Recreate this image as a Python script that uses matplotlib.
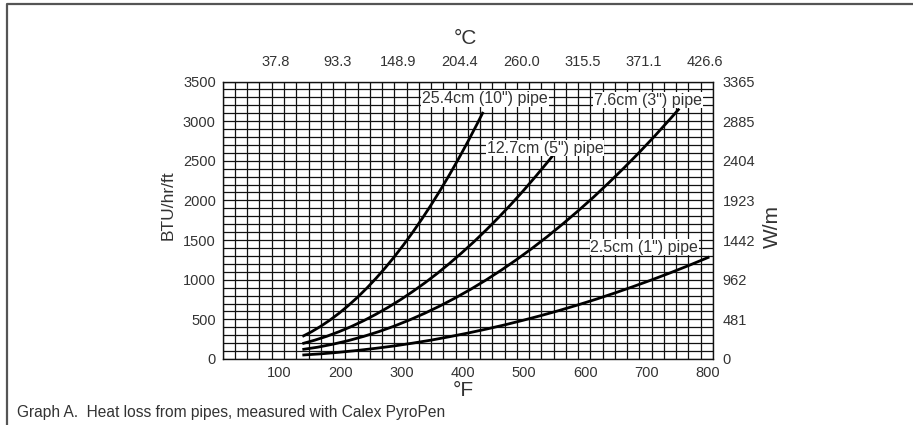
import numpy as np
import matplotlib
matplotlib.use("Agg")
import matplotlib.pyplot as plt
import matplotlib.transforms as mtransforms
from matplotlib.lines import Line2D

plt.rcParams['font.family'] = ['Liberation Sans', 'DejaVu Sans']

# ---- data (deg F vs BTU/hr/ft) ----
f_10in = [130, 145, 160, 175, 190, 205, 220, 235, 250, 265, 280,
          295, 310, 325, 340, 355, 370, 385, 400, 415, 425]
q_10in = [284, 344, 413, 491, 578, 674, 779, 893, 1016, 1148, 1289,
          1439, 1598, 1766, 1943, 2129, 2324, 2528, 2741, 2963, 3116]

f_5in = [130, 150, 170, 190, 210, 230, 250, 270, 290, 310, 330,
         350, 370, 390, 410, 430, 450, 470, 490, 510, 530, 540]
q_5in = [194, 237, 287, 345, 410, 483, 564, 652, 747, 851, 961,
         1079, 1205, 1339, 1479, 1628, 1784, 1947, 2118, 2297, 2483, 2579]

f_3in = [130, 155, 180, 205, 230, 255, 280, 305, 330, 355, 380, 405, 430,
         455, 480, 505, 530, 555, 580, 605, 630, 655, 680, 705, 730, 745]
q_3in = [120, 149, 187, 232, 285, 346, 415, 493, 578, 671, 772, 881, 998,
         1123, 1256, 1397, 1546, 1704, 1869, 2041, 2223, 2412, 2608, 2813, 3027, 3158]

f_1in = [130, 160, 190, 220, 250, 280, 310, 340, 370, 400, 430, 460,
         490, 520, 550, 580, 610, 640, 670, 700, 730, 760, 794]
q_1in = [50, 65, 85, 108, 135, 165, 200, 238, 281, 327, 377, 430,
         488, 549, 614, 683, 756, 833, 914, 998, 1086, 1178, 1287]

f_ticks = [100, 200, 300, 400, 500, 600, 700, 800]
c_labels = ["37.8", "93.3", "148.9", "204.4", "260.0", "315.5", "371.1", "426.6"]
btu_ticks = [0, 500, 1000, 1500, 2000, 2500, 3000, 3500]
wm_labels = ["0", "481", "962", "1442", "1923", "2404", "2885", "3365"]

pipe_names = ['25.4cm (10") pipe', '12.7cm (5") pipe', '7.6cm (3") pipe', '2.5cm (1") pipe']
label_pos = [(428, 3285), (526, 2660), (694, 3266), (688, 1412)]

# ---- figure ----
W, H = 913, 425
fig = plt.figure(figsize=(W / 100, H / 100), dpi=100)
x0, x1, y0, y1 = 222.7, 713, 81.5, 359
ax = fig.add_axes([x0 / W, 1 - y1 / H, (x1 - x0) / W, (y1 - y0) / H])

txt = '#333333'
ax.set_xlim(0, 800)
ax.set_ylim(0, 3500)

# fine grid
ax.set_xticks(np.arange(0, 801, 20), minor=True)
ax.set_yticks(np.arange(0, 3501, 100), minor=True)
ax.grid(which='minor', color='#111111', linewidth=0.9)
ax.grid(which='major', color='#111111', linewidth=0.9)
ax.set_axisbelow(True)

ax.set_xticks(f_ticks)
ax.set_yticks(btu_ticks)
ax.tick_params(which='both', length=0, labelsize=10.5, labelcolor=txt)
ax.tick_params(axis='x', pad=5)
ax.tick_params(axis='y', pad=5)
for lab in ax.get_xticklabels():
    lab.set_transform(lab.get_transform() + mtransforms.ScaledTranslation(-5 / 100, 0, fig.dpi_scale_trans))

for sp in ax.spines.values():
    sp.set_color('#111111')
    sp.set_linewidth(1.0)

# curves
for f, q in [(f_10in, q_10in), (f_5in, q_5in), (f_3in, q_3in), (f_1in, q_1in)]:
    ax.plot(f, q, color='black', linewidth=2.0, solid_capstyle='butt',
            solid_joinstyle='round', zorder=3)

# curve labels
for name, (lx, ly) in zip(pipe_names, label_pos):
    ax.text(lx, ly, name, ha='center', va='center', fontsize=11.5, color=txt, zorder=4,
            bbox=dict(facecolor='white', edgecolor='none', pad=0.6))

# top axis in deg C
axt = ax.twiny()
axt.set_xlim(ax.get_xlim())
axt.set_xticks(f_ticks)
axt.set_xticklabels(c_labels)
axt.tick_params(length=0, labelsize=10.5, labelcolor=txt, pad=9)
for lab in axt.get_xticklabels():
    lab.set_transform(lab.get_transform() + mtransforms.ScaledTranslation(-8 / 100, 0, fig.dpi_scale_trans))
for sp in axt.spines.values():
    sp.set_visible(False)

# right axis in W/m
axr = ax.twinx()
axr.set_ylim(ax.get_ylim())
axr.set_yticks(btu_ticks)
axr.set_yticklabels(wm_labels)
axr.tick_params(length=0, labelsize=10.5, labelcolor=txt, pad=7)
for sp in axr.spines.values():
    sp.set_visible(False)

# axis titles
fig.text(465 / W, 1 - 39 / H, '°C', ha='center', va='center', fontsize=15, color=txt)
fig.text(463 / W, 1 - 391 / H, '°F', ha='center', va='center', fontsize=15, color=txt)
fig.text(168 / W, 1 - 205 / H, 'BTU/hr/ft', ha='center', va='center', rotation=90, fontsize=12.5, color=txt)
fig.text(772 / W, 1 - 226 / H, 'W/m', ha='center', va='center', rotation=90, fontsize=15, color=txt)

fig.text(17 / W, 1 - 412 / H, 'Graph A.  Heat loss from pipes, measured with Calex PyroPen',
         ha='left', va='center', fontsize=11.2, color=txt)

# outer frame (left and top only)
bx0, by0 = 7 / W, 1 - 4 / H
frame = Line2D([bx0, bx0, 1.0], [0, by0, by0], transform=fig.transFigure,
               color='#555555', linewidth=1.6)
fig.add_artist(frame)

fig.savefig('out.png', dpi=100)
